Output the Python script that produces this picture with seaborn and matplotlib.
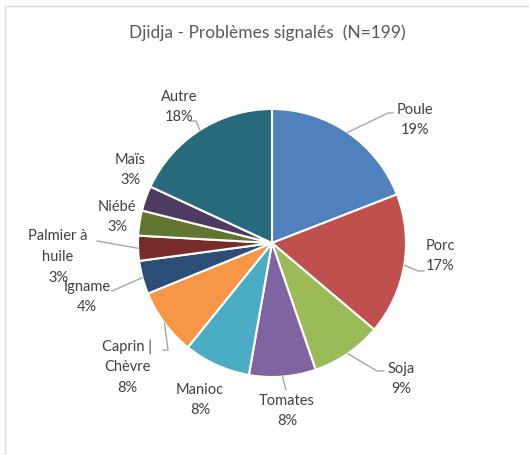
import numpy as np
import matplotlib
matplotlib.use("Agg")
import matplotlib.pyplot as plt
import matplotlib.patches as mpatches
import seaborn as sns

# Data
categories = ["Poule", "Porc", "Soja", "Tomates", "Manioc", "Caprin |\nChèvre",
              "Igname", "Palmier à\nhuile", "Niébé", "Maïs", "Autre"]
counts = [38, 34, 17, 16, 16, 16, 8, 6, 6, 6, 36]
percents = [19, 17, 9, 8, 8, 8, 4, 3, 3, 3, 18]
title = "Djidja - Problèmes signalés  (N=199)"

colors = ["#4F81BD", "#C0504D", "#9BBB59", "#8064A2", "#4BACC6", "#F79646",
          "#2C4D75", "#772C2A", "#5F7530", "#4D3B62", "#276A7C"]

# label text centres (pixels) and leader elbows (None = no leader)
label_pos = [(415, 120), (440, 256), (401, 379), (287, 411), (200, 400), (127, 367),
             (87, 297), (58, 257), (117, 217), (130, 170), (179, 107)]
leaders = [[(388, 114), (393, 114)], [(418, 272), (424, 272)], [(377, 372), (384, 372)],
           [(286, 391)], None, [(168, 351), (163, 351)],
           [(112, 292)], [(97, 242)], None, None, [(196, 122), (190, 122)]]

sns.set_style("white")
plt.rcParams["font.family"] = ["Lato", "DejaVu Sans"]

fig = plt.figure(figsize=(5.29, 4.56), dpi=100)
ax = fig.add_axes([0, 0, 1, 1])

cx, cy, r = 272, 244, 134
wedges, _ = ax.pie(counts, colors=colors, startangle=270, counterclock=True,
                   radius=r, center=(cx, cy),
                   wedgeprops=dict(edgecolor="white", linewidth=1.5))
ax.set_xlim(0, 529)
ax.set_ylim(456, 0)
ax.set_aspect("equal")
ax.axis("off")

# chart frame
ax.add_patch(mpatches.Rectangle((5, 7), 600, 500, fill=False,
                                edgecolor="#D9D9D9", linewidth=1))

for w, name, pct, pos, elb in zip(wedges, categories, percents, label_pos, leaders):
    ax.text(pos[0], pos[1], f"{name}\n{pct}%", ha="center", va="center",
            fontsize=10.5, color="#404040", linespacing=1.6)
    if elb is not None:
        mid = np.deg2rad((w.theta1 + w.theta2) / 2)
        edge = (cx + r * np.cos(mid), cy + r * np.sin(mid))
        xs = [edge[0]] + [p[0] for p in elb]
        ys = [edge[1]] + [p[1] for p in elb]
        ax.plot(xs, ys, color="#A6A6A6", linewidth=1)

ax.text(267, 33, title, ha="center", va="center", fontsize=12.5, color="#595959")

fig.savefig("out.png", dpi=100)
